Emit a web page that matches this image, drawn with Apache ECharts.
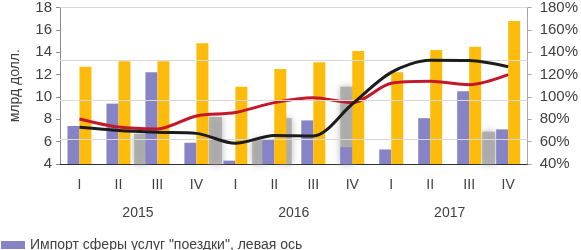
<!DOCTYPE html>
<html>
<head>
<meta charset="utf-8">
<script src="https://cdn.jsdelivr.net/npm/echarts@6/dist/echarts.min.js"></script>
<style>
  html, body { margin: 0; padding: 0; background: #fff; }
  #main { width: 581px; height: 250px; }
</style>
</head>
<body>
<div id="main"></div>
<script>
var quarters = ['I', 'II', 'III', 'IV', 'I', 'II', 'III', 'IV', 'I', 'II', 'III', 'IV'];
var years = ['2015', '2016', '2017'];

// left axis, bn USD
var importTrips = [7.4, 9.4, 12.2, 5.9, 4.3, 6.2, 7.9, 5.5, 5.3, 8.1, 10.5, 7.1];
var yellowBars = [12.7, 13.2, 13.2, 14.8, 10.9, 12.5, 13.1, 14.1, 12.2, 14.2, 14.5, 16.8];

// faded grey bars: [position in quarters from left edge, value]
var greyBars = [[2.07, 6.7], [3.99, 8.2], [5.1, 6.2], [5.78, 8.1], [7.36, 10.9], [11.0, 6.9]];

// right axis, %
var blackLine = [72.8, 70, 68.4, 67.4, 58.5, 65.5, 65, 93.7, 122, 132.7, 132.5, 127];
var redLine = [80.3, 73, 71.4, 83, 86, 94.9, 99.3, 95, 112.2, 114, 111, 120];

var leftTicks = { min: 4, max: 18, interval: 2 };
var rightTicks = { min: 40, max: 180, interval: 20 };
var gridValues = [18, 13.25, 9.73, 6.2];

var FONT = 'Liberation Sans';
var TXT = '#404040';

var chartDom = document.getElementById('main');
var myChart = echarts.init(chartDom, null, { renderer: 'canvas' });

var option = {
    animation: false,
    textStyle: { fontFamily: FONT },
    grid: { left: 56, right: 47, top: 5, bottom: 86 },
    legend: {
        data: ['Импорт сферы услуг "поездки", левая ось'],
        left: -4,
        top: 233,
        itemWidth: 24,
        itemHeight: 8,
        itemGap: 4,
        icon: 'rect',
        textStyle: { fontFamily: FONT, fontSize: 14, color: TXT }
    },
    xAxis: [
        {
            type: 'category',
            data: quarters,
            position: 'bottom',
            axisLine: { lineStyle: { color: '#303030', width: 1 } },
            axisTick: { length: 30, lineStyle: { color: '#202020' } },
            axisLabel: { margin: 14, fontSize: 14, color: TXT, fontFamily: FONT }
        },
        {
            type: 'category',
            data: years,
            position: 'bottom',
            axisLine: { show: false },
            axisTick: { length: 58, lineStyle: { color: '#202020' } },
            axisLabel: { margin: 42, fontSize: 14, color: TXT, fontFamily: FONT }
        },
        {
            type: 'value',
            min: 0,
            max: 12,
            show: false
        }
    ],
    yAxis: [
        {
            type: 'value',
            min: leftTicks.min,
            max: leftTicks.max,
            interval: leftTicks.interval,
            name: 'млрд долл.',
            nameLocation: 'middle',
            nameGap: 38,
            nameRotate: 90,
            nameTextStyle: { fontSize: 14, color: TXT, fontFamily: FONT },
            axisLine: { show: true, lineStyle: { color: '#8c8c8c' } },
            axisTick: { show: true, length: 4, lineStyle: { color: '#8c8c8c' } },
            axisLabel: { margin: 8, fontSize: 15, color: TXT, fontFamily: FONT },
            splitLine: { show: false }
        },
        {
            type: 'value',
            min: rightTicks.min,
            max: rightTicks.max,
            interval: rightTicks.interval,
            position: 'right',
            axisLine: { show: true, lineStyle: { color: '#a6a6a6' } },
            axisTick: { show: true, length: 4, lineStyle: { color: '#a6a6a6' } },
            axisLabel: { margin: 12, fontSize: 15, color: TXT, fontFamily: FONT, formatter: '{value}%' },
            splitLine: { show: false }
        }
    ],
    series: [
        {
            name: 'grey',
            type: 'bar',
            xAxisIndex: 2,
            yAxisIndex: 0,
            barWidth: 13,
            data: greyBars,
            z: 1,
            itemStyle: {
                color: 'rgba(168,168,168,0.85)',
                shadowBlur: 7,
                shadowColor: 'rgba(168,168,168,1)'
            },
            markLine: {
                silent: true,
                symbol: 'none',
                label: { show: false },
                lineStyle: { color: '#d9d9d9', type: 'solid', width: 1 },
                data: gridValues.map(function (v) { return { yAxis: v }; })
            }
        },
        {
            name: 'Импорт сферы услуг "поездки", левая ось',
            type: 'bar',
            xAxisIndex: 0,
            yAxisIndex: 0,
            barWidth: 12,
            barGap: '0%',
            data: importTrips,
            z: 2,
            itemStyle: { color: '#8684c6' }
        },
        {
            name: 'Серия 2',
            type: 'bar',
            xAxisIndex: 0,
            yAxisIndex: 0,
            barWidth: 12,
            barGap: '0%',
            data: yellowBars,
            z: 2,
            itemStyle: { color: '#fdbb0c' }
        },
        {
            name: 'Серия 3',
            type: 'line',
            xAxisIndex: 0,
            yAxisIndex: 1,
            data: redLine,
            smooth: 0.3,
            symbol: 'none',
            z: 4,
            lineStyle: { color: '#c4172c', width: 3 }
        },
        {
            name: 'Серия 4',
            type: 'line',
            xAxisIndex: 0,
            yAxisIndex: 1,
            data: blackLine,
            smooth: 0.3,
            symbol: 'none',
            z: 5,
            lineStyle: { color: '#1c1c1c', width: 3 }
        }
    ]
};

option && myChart.setOption(option);
</script>
</body>
</html>
